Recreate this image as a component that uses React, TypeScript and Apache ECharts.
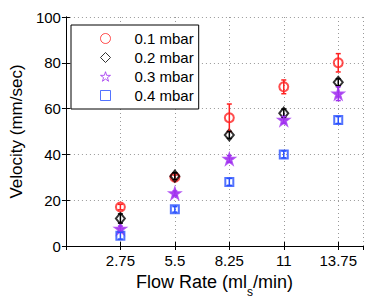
import React, { useEffect, useRef } from "react";
import * as echarts from "echarts";

const flowRates = [2.75, 5.5, 8.25, 11, 13.75];
const seriesNames = ["0.1 mbar", "0.2 mbar", "0.3 mbar", "0.4 mbar"];
const v01 = [17, 30, 56, 69.5, 80];
const v02 = [12, 30.5, 48.5, 58, 71.5];
const v03 = [7.5, 23, 38, 55, 66.5];
const v04 = [4.5, 16, 28, 40, 55];
const e01 = [1.2, 1, 6, 3, 4];
const e02 = [2, 1.5, 1.5, 1.8, 1.5];
const e03 = [1.2, 1, 1.5, 1.5, 3];
const e04 = [1.5, 1.2, 1.5, 1.5, 1.5];
const yTicks = [0, 20, 40, 60, 80, 100];

const STAR = "path://M50,2 L61.5,37 L98,37 L68.5,58.5 L79.5,94 L50,72 L20.5,94 L31.5,58.5 L2,37 L38.5,37 Z";
const FONT = "Liberation Sans";

export default function App() {
  const ref = useRef<HTMLDivElement>(null);
  useEffect(() => {
    if (!ref.current) return;
    const chart = echarts.init(ref.current, null, { renderer: "svg" });
    const values = [v01, v02, v03, v04];
    const errs = [e01, e02, e03, e04];
    const colors = ["#ff2020", "#000000", "#a030f0", "#2850ff"];
    const symbols = ["circle", "diamond", STAR, "rect"];
    const sizes = [[9, 9], [9, 11], [10, 10], [8, 8]];
    const fills = ["none", "none", "#b040f0", "none"];

    const scatter = values.map((vals, i) => ({
      type: "scatter",
      name: seriesNames[i],
      data: flowRates.map((x, j) => [x, vals[j]]),
      symbol: symbols[i],
      symbolSize: sizes[i],
      itemStyle: { color: fills[i], borderColor: colors[i], borderWidth: 2 },
      z: 3 + i,
    }));

    const errorBars = values.map((vals, i) => ({
      type: "custom",
      name: seriesNames[i] + " err",
      data: flowRates.map((x, j) => [x, vals[j], errs[i][j]]),
      encode: { x: 0, y: 1 },
      z: 10,
      renderItem: (params: any, api: any) => {
        const x = api.value(0);
        const y = api.value(1);
        const e = api.value(2);
        const top = api.coord([x, y + e]);
        const bot = api.coord([x, y - e]);
        const hw = 2.5;
        const st = { stroke: colors[i], lineWidth: 1.5 };
        return {
          type: "group",
          children: [
            { type: "line", shape: { x1: top[0], y1: top[1], x2: bot[0], y2: bot[1] }, style: st },
            { type: "line", shape: { x1: top[0] - hw, y1: top[1], x2: top[0] + hw, y2: top[1] }, style: st },
            { type: "line", shape: { x1: bot[0] - hw, y1: bot[1], x2: bot[0] + hw, y2: bot[1] }, style: st },
          ],
        };
      },
    }));

    const gridLine = { show: true, lineStyle: { color: "#999", type: [1, 3], width: 1 } };

    chart.setOption({
      animation: false,
      textStyle: { fontFamily: FONT },
      grid: { left: 63, right: 11, top: 17, bottom: 57 },
      legend: {
        orient: "vertical",
        left: 71,
        top: 25,
        padding: [6, 5, 6, 27],
        itemGap: 4,
        itemWidth: 10,
        itemHeight: 10,
        borderColor: "#000",
        borderWidth: 1,
        backgroundColor: "#fff",
        textStyle: { fontSize: 15, lineHeight: 15, color: "#000", padding: [0, 0, 0, 19], fontFamily: FONT },
        data: seriesNames.map((n, i) => ({
          name: n,
          icon: symbols[i],
          itemStyle: { color: "none", borderColor: colors[i], borderWidth: 1 },
        })),
      },
      xAxis: [
        {
          type: "value",
          min: 0,
          max: 15,
          interval: 2.75,
          position: "bottom",
          axisLine: { show: true, lineStyle: { color: "#000", width: 1 } },
          axisTick: { show: true, inside: true, length: 4, lineStyle: { color: "#000" } },
          axisLabel: {
            color: "#000",
            fontSize: 15,
            margin: 7,
            fontFamily: FONT,
            showMaxLabel: false,
            formatter: (v: number) => (v === 0 || v > 14 ? "" : String(Math.round(v * 100) / 100)),
          },
          splitLine: gridLine,
          name: "{a|Flow Rate (ml}{s|s}{a|/min)}",
          nameLocation: "middle",
          nameGap: 24,
          nameTextStyle: {
            color: "#000",
            rich: {
              a: { fontSize: 18, lineHeight: 18, verticalAlign: "top", color: "#000", fontFamily: FONT },
              s: { fontSize: 12, lineHeight: 12, padding: [13, 0, 0, 0], verticalAlign: "top", color: "#000", fontFamily: FONT },
            },
          },
        },
        {
          type: "value",
          min: 0,
          max: 15,
          interval: 2.75,
          position: "top",
          axisLine: { show: true, lineStyle: { color: "#000", width: 1 } },
          axisTick: { show: true, inside: true, length: 4, lineStyle: { color: "#000" } },
          axisLabel: { show: false },
          splitLine: { show: false },
        },
      ],
      yAxis: [
        {
          type: "value",
          min: yTicks[0],
          max: yTicks[yTicks.length - 1],
          interval: 20,
          axisLine: { show: true, lineStyle: { color: "#000", width: 1 } },
          axisTick: { show: true, inside: true, length: 4, lineStyle: { color: "#000" } },
          axisLabel: { color: "#000", fontSize: 15, margin: 5, fontFamily: FONT },
          splitLine: gridLine,
          name: "Velocity (mm/sec)",
          nameLocation: "middle",
          nameGap: 38,
          nameTextStyle: { color: "#000", fontSize: 17, fontFamily: FONT },
        },
        {
          type: "value",
          min: 0,
          max: 100,
          interval: 20,
          position: "right",
          axisLine: { show: true, lineStyle: { color: "#000", width: 1 } },
          axisTick: { show: true, inside: true, length: 4, lineStyle: { color: "#000" } },
          axisLabel: { show: false },
          splitLine: { show: false },
        },
      ],
      series: [...scatter, ...errorBars],
    });
    return () => chart.dispose();
  }, []);
  return <div ref={ref} style={{ width: 374, height: 303, position: "absolute", left: 0, top: 0, background: "#fff" }} />;
}
